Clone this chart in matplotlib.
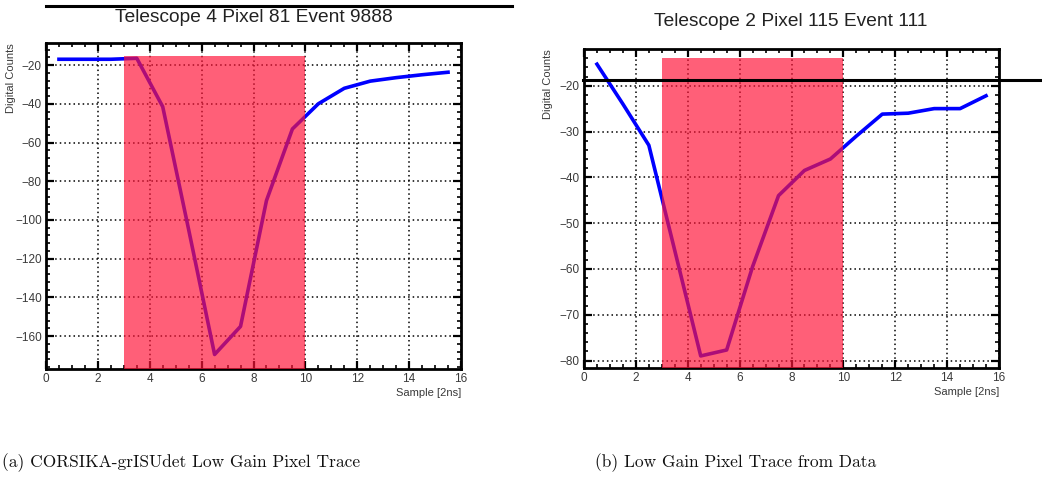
import numpy as np
import matplotlib
matplotlib.use('Agg')
from matplotlib import pyplot as plt
from matplotlib.ticker import MultipleLocator

plt.rcParams['font.family'] = ['Liberation Sans', 'DejaVu Sans']

# sample bins (bin centres, 2 ns each)
samples = [0.5, 1.5, 2.5, 3.5, 4.5, 5.5, 6.5, 7.5, 8.5, 9.5, 10.5, 11.5, 12.5, 13.5, 14.5, 15.5]

# (a) simulated trace
sim_counts = [-17, -17, -17, -16.5, -41.5, -105, -169.5, -155, -90, -53, -40, -32, -28.3, -26.5, -25, -23.7]
# (b) trace from data
data_counts = [-15.3, -24, -33, -56, -79, -77.7, -59.5, -44, -38.5, -36, -31, -26.2, -26, -25, -25, -22.2]

# integration window
win_start, win_end = 3, 10

titles = ['Telescope 4 Pixel 81 Event 9888', 'Telescope 2 Pixel 115 Event 111']
captions = ['(a) CORSIKA-grISUdet Low Gain Pixel Trace', '(b) Low Gain Pixel Trace from Data']

fig = plt.figure(figsize=(10.42, 4.79), dpi=100)

panels = [
    dict(rect=[46 / 1042, 1 - 369 / 479, 415 / 1042, 326 / 479], y=sim_counts,
         ylim=(-177, -8.6), ymaj=20, ymin=4, win_top=-15.3,
         title_xy=(254 / 1042, 1 - 17 / 479), line_y=1 - 6 / 479, line_x=(46 / 1042, 512 / 1042),
         cap_x=2 / 1042, ylab_x=-0.072),
    dict(rect=[584 / 1042, 1 - 368.3 / 479, 415 / 1042, 319 / 479], y=data_counts,
         ylim=(-81.7, -12.05), ymaj=10, ymin=2, win_top=-13.9,
         title_xy=(791 / 1042, 1 - 22 / 479), line_y=1 - 80 / 479, line_x=(583 / 1042, 1.0),
         cap_x=595 / 1042, ylab_x=-0.075),
]

for i, p in enumerate(panels):
    ax = fig.add_axes(p['rect'])
    ax.plot(samples, p['y'], color='#0000ff', lw=2.6, zorder=2)
    ax.fill_between([win_start, win_end], p['ylim'][0], p['win_top'],
                    color='#ff1438', alpha=0.68, lw=0, zorder=3)
    ax.set_xlim(0, 16)
    ax.set_ylim(*p['ylim'])
    ax.xaxis.set_major_locator(MultipleLocator(2))
    ax.xaxis.set_minor_locator(MultipleLocator(0.5))
    ax.yaxis.set_major_locator(MultipleLocator(p['ymaj']))
    ax.yaxis.set_minor_locator(MultipleLocator(p['ymin']))
    ax.grid(True, which='major', color='black', ls=(0, (1, 2)), lw=1.1, zorder=1)
    ax.set_axisbelow(True)
    ax.tick_params(which='both', direction='in', top=True, right=True,
                   labelsize=8.5, colors='black', labelcolor='#3a3a3a')
    ax.tick_params(which='major', length=6, width=1.6, pad=3)
    ax.tick_params(which='minor', length=3, width=1.2)
    for s in ax.spines.values():
        s.set_linewidth(2)
    ax.set_xlabel('Sample [2ns]', fontsize=8, color='#3a3a3a', loc='right', labelpad=2)
    ax.set_ylabel('Digital Counts', fontsize=8, color='#3a3a3a', loc='top')
    ax.yaxis.set_label_coords(p['ylab_x'], 1.0)

    fig.text(p['title_xy'][0], p['title_xy'][1], titles[i], ha='center', va='center',
             fontsize=13.8, color='#222222')
    fig.add_artist(plt.Line2D(p['line_x'], [p['line_y'], p['line_y']], color='black', lw=2.2))
    fig.text(p['cap_x'], 1 - 463 / 479, captions[i], ha='left', va='center',
             fontsize=12.5, family='cmr10', color='#111111')

fig.savefig('out.png', dpi=100)
